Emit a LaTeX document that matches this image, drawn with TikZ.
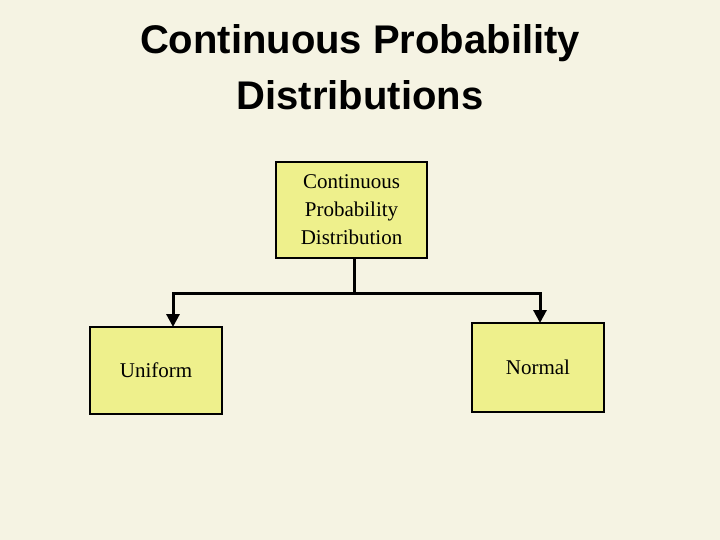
\documentclass[tikz,border=0pt]{standalone}
\usepackage{fontspec}
\setmainfont{Liberation Serif}
\newfontfamily\titlefont{Liberation Sans}
\usetikzlibrary{arrows.meta}
\definecolor{bgc}{HTML}{F5F3E3}
\definecolor{boxc}{HTML}{EEF08C}
\begin{document}
\begin{tikzpicture}[x=1pt,y=-1pt,
  boxst/.style={draw=black,line width=2.5pt,fill=boxc,inner sep=0pt,font=\fontsize{21}{28}\selectfont,align=center},
  conn/.style={line width=3pt,-{Triangle[length=13pt,width=13pt]}}]
\fill[bgc] (0,0) rectangle (720,540);
\useasboundingbox (0,0) rectangle (720,540);
\node[font=\titlefont\bfseries\fontsize{40}{40}\selectfont] (t1) at (360,43) {Continuous Probability};
\node[font=\titlefont\bfseries\fontsize{40}{40}\selectfont] (t2) at (360,95) {Distributions};
\node[boxst,minimum width=151pt,minimum height=96pt] (top) at (351.5,210) {Continuous\\Probability\\Distribution};
\node[boxst,minimum width=132pt,minimum height=87pt] (uni) at (156,370.5) {Uniform};
\node[boxst,minimum width=132pt,minimum height=89pt] (nor) at (538,367.5) {Normal};
\coordinate (j) at (354,293);
\draw[line width=3pt] (354,258) -- (j);
\draw[conn] (j) -- (173,293) -- (173,327);
\draw[conn] (j) -- (540,293) -- (540,323);
\end{tikzpicture}
\end{document}
